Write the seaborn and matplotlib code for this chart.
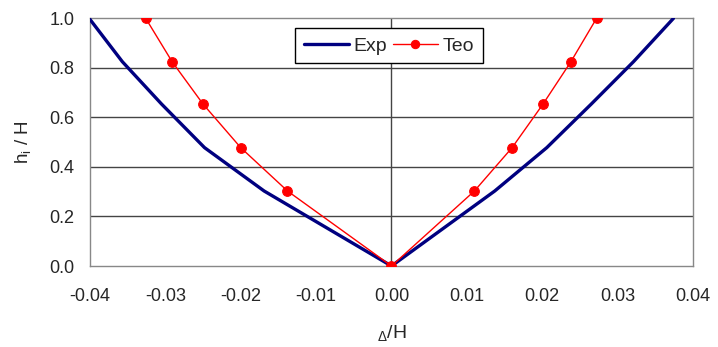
import pandas as pd
import matplotlib.pyplot as plt
import seaborn as sns

# levels h_i / H
niveis = [1.0, 0.825, 0.654, 0.478, 0.303, 0.0, 0.303, 0.478, 0.654, 0.825, 1.0]
# experimental drift
exp_drift = [-0.0401, -0.0357, -0.0305, -0.0248, -0.0169, 0.0,
             0.0137, 0.0206, 0.0265, 0.0321, 0.0374]
# theoretical drift
teo_drift = [-0.0326, -0.0291, -0.0250, -0.0200, -0.0138, 0.0,
             0.0110, 0.0160, 0.0201, 0.0238, 0.0272]

xticks = [-0.04, -0.03, -0.02, -0.01, 0.0, 0.01, 0.02, 0.03, 0.04]
yticks = [0.0, 0.2, 0.4, 0.6, 0.8, 1.0]

sns.set_style('white')
plt.rcParams['font.family'] = ['Liberation Sans', 'DejaVu Sans']
plt.rcParams['mathtext.fontset'] = 'custom'
plt.rcParams['mathtext.rm'] = 'Liberation Sans'
plt.rcParams['mathtext.it'] = 'Liberation Sans'

data = pd.DataFrame({'h': niveis, 'exp': exp_drift, 'teo': teo_drift})

fig = plt.figure(figsize=(7.18, 3.47), dpi=100)
ax = fig.add_axes([0.1253, 0.2334, 0.8399, 0.7136])

ax.set_xlim(-0.04, 0.04)
ax.set_ylim(0, 1)
ax.set_xticks(xticks)
ax.set_yticks(yticks)
ax.set_xticklabels([f'{t:.2f}' for t in xticks])
ax.set_yticklabels([f'{t:.1f}' for t in yticks])

for y in yticks[1:-1]:
    ax.axhline(y, color='#444444', lw=1.0, zorder=1)
ax.axvline(0, color='#444444', lw=1.0, zorder=1)

sns.lineplot(data=data, x='exp', y='h', sort=False, color='#000080',
             lw=2.4, ax=ax, label='Exp', zorder=3)
sns.lineplot(data=data, x='teo', y='h', sort=False, color='#ff0000',
             lw=1.0, marker='o', markersize=7, markeredgecolor='#ff0000',
             ax=ax, label='Teo', zorder=4)

for s in ax.spines.values():
    s.set_color('#888888')
    s.set_linewidth(1.0)

ax.tick_params(axis='both', direction='out', length=4, width=1,
               color='#555555', labelsize=13)
ax.tick_params(axis='y', pad=7)
ax.tick_params(axis='x', pad=12)
ax.set_xlabel(r'$_{\Delta}$/H', fontsize=14, labelpad=13)
ax.set_ylabel(r'h$_{\rm i}$ / H', fontsize=13.5, labelpad=12)

leg = ax.legend(loc='upper center', bbox_to_anchor=(0.496, 0.96), ncol=2,
                frameon=True, fancybox=False, fontsize=14,
                handlelength=2.3, handletextpad=0.25, columnspacing=0.3,
                borderpad=0.45, borderaxespad=0, edgecolor='black',
                framealpha=1)
leg.get_frame().set_linewidth(1.0)
for h in leg.get_lines():
    if h.get_marker() == 'o':
        h.set_markersize(6)

plt.savefig('out.png', dpi=100)
